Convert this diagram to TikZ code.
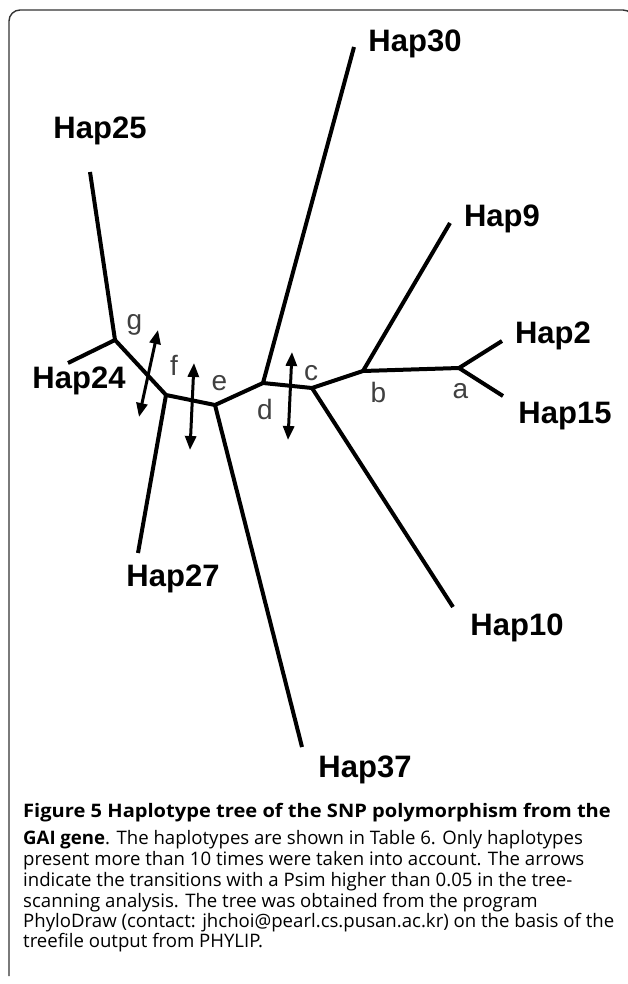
\documentclass[tikz,border=0pt]{standalone}
\usepackage{graphicx}
\usepackage{fontspec}
\newfontfamily\hapfont{Liberation Sans}
\newfontfamily\capfont{Open Sans}
\usetikzlibrary{arrows.meta}

\begin{document}
\begin{tikzpicture}[
    x=1pt, y=-1pt,
    branch/.style={line width=4pt, line join=round},
    hap/.style={font=\hapfont\bfseries\fontsize{31}{31}\selectfont, anchor=base, inner sep=0pt},
    lbl/.style={font=\hapfont\fontsize{28}{28}\selectfont, text=black!75, anchor=base, inner sep=0pt},
    psim/.style={{Triangle[length=14pt,width=11pt]}-{Triangle[length=14pt,width=11pt]}, line width=3pt},
    frame/.style={draw=black!80, line width=1.4pt, rounded corners=11pt},
    captxt/.style={font=\capfont\fontsize{18.6}{21}\selectfont, anchor=base west, inner sep=0pt}
  ]
  \useasboundingbox (0,0) rectangle (627,984);

  % Frame (open at the bottom, right side off the page)
  \draw[frame] (9,976) -- (9,10) -- (634,10) -- (634,976);

  % Inner nodes of the tree
  \coordinate (g) at (115,340);
  \coordinate (f) at (166,395);
  \coordinate (e) at (215,405);
  \coordinate (d) at (263,383);
  \coordinate (c) at (312,388);
  \coordinate (b) at (363,371);
  \coordinate (a) at (459,368);

  % Tips
  \coordinate (t25) at (90,172);
  \coordinate (t24) at (68,363);
  \coordinate (t27) at (138,553);
  \coordinate (t37) at (302,747);
  \coordinate (t30) at (354,47);
  \coordinate (t10) at (453,607);
  \coordinate (t9)  at (450,223);
  \coordinate (t2)  at (502,341);
  \coordinate (t15) at (503,396);

  % === BRANCHES ===
  % Backbone
  \draw[branch] (t25) -- (g) -- (f) -- (e) -- (d) -- (c) -- (b) -- (a) -- (t2);
  \draw[branch] (a) -- (t15);
  % Side branches
  \draw[branch] (g) -- (t24);
  \draw[branch] (f) -- (t27);
  \draw[branch] (e) -- (t37);
  \draw[branch] (d) -- (t30);
  \draw[branch] (c) -- (t10);
  \draw[branch] (b) -- (t9);

  % Haplotype names
  \node[hap] (hap30) at (415,52)  {Hap30};
  \node[hap] (hap25) at (100,139) {Hap25};
  \node[hap] (hap9)  at (502,227) {Hap9};
  \node[hap] (hap2)  at (553,343) {Hap2};
  \node[hap] (hap15) at (565,423) {Hap15};
  \node[hap] (hap24) at (79,388)  {Hap24};
  \node[hap] (hap27) at (173,586) {Hap27};
  \node[hap] (hap10) at (517,635) {Hap10};
  \node[hap] (hap37) at (365,777) {Hap37};

  % Node letters
  \node[lbl] (lg) at (134.5,329) {g};
  \node[lbl] (lf) at (174,375)   {f};
  \node[lbl] (le) at (219.5,390) {e};
  \node[lbl] (ld) at (265,419)   {d};
  \node[lbl] (lc) at (311,380)   {c};
  \node[lbl] (lb) at (378.5,402) {b};
  \node[lbl] (la) at (460.5,398) {a};

  % === ARROWS ===
  \coordinate (p1a) at (158,330);
  \coordinate (p1b) at (139,417);
  \coordinate (p2a) at (194,363);
  \coordinate (p2b) at (190,450);
  \coordinate (p3a) at (292,352);
  \coordinate (p3b) at (288,440);
  \draw[psim] (p1a) -- (p1b);
  \draw[psim] (p2a) -- (p2b);
  \draw[psim] (p3a) -- (p3b);

  % Caption
  \node[captxt] (cap1) at (23,817) {\scalebox{1.08}[1]{\bfseries Figure 5 Haplotype tree of the SNP polymorphism from the}};
  \node[captxt] (cap2) at (23,844) {\textbf{GAI gene}. The haplotypes are shown in Table 6. Only haplotypes};
  \node[captxt] (cap3) at (23,865) {present more than 10 times were taken into account. The arrows};
  \node[captxt] (cap4) at (23,886) {indicate the transitions with a Psim higher than 0.05 in the tree-};
  \node[captxt] (cap5) at (23,907) {scanning analysis. The tree was obtained from the program};
  \node[captxt] (cap6) at (23,927) {PhyloDraw (contact: jhchoi@pearl.cs.pusan.ac.kr) on the basis of the};
  \node[captxt] (cap7) at (23,947) {treefile output from PHYLIP.};
\end{tikzpicture}
\end{document}
